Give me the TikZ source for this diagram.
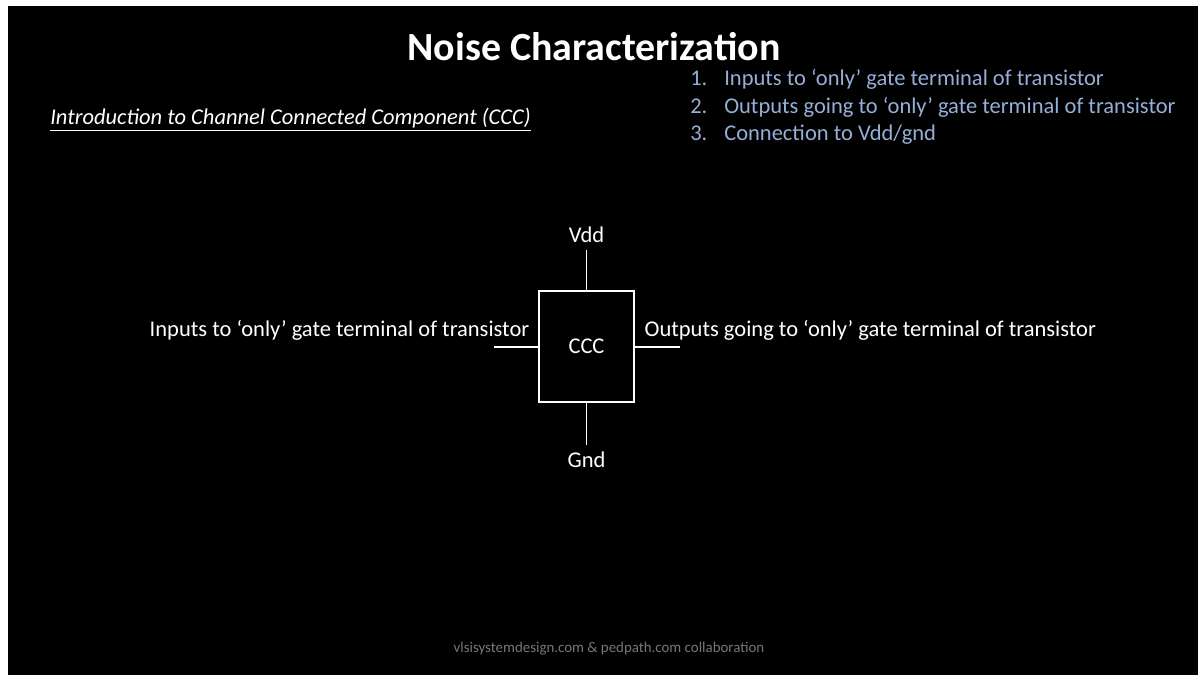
\documentclass[tikz,border=0pt]{standalone}
\usepackage{fontspec}
\setmainfont{Carlito}
\usepackage{tikz}
\usetikzlibrary{positioning}
\definecolor{listblue}{RGB}{150,175,215}
\definecolor{footgray}{RGB}{120,120,120}

\begin{document}
\begin{tikzpicture}[x=0.025cm,y=-0.025cm]
          \tikzset{BlockStyle/.style = {
              draw = white,
              line width = 2pt,
              minimum width = 95*0.025cm,
              minimum height = 111*0.025cm,
              inner sep = 0pt,
              text = white,
              font = \fontsize{16}{18}\selectfont},
            PinStyle/.style = {
              draw = white,
              line width = 1.4pt},
            PinLabel/.style = {
              text = white,
              inner sep = 1pt,
              font = \fontsize{16}{18}\selectfont},
            ListItem/.style = {
              text = listblue,
              anchor = base west,
              inner sep = 0pt,
              font = \fontsize{16}{18}\selectfont}}
          \useasboundingbox (0,0) rectangle (1198,675);
          \fill[white] (0,0) rectangle (1198,675);
          \fill[black] (8,6) rectangle (1198,675);
          %% heading
          \node[text=white,font=\fontsize{28.4}{32}\selectfont\bfseries] (title) at (594,47) {Noise Characterization};
          \node[text=white,anchor=west,inner sep=0pt,font=\fontsize{16}{18}\selectfont\itshape] (intro) at (50,120) {\underline{Introduction to Channel Connected Component (CCC)}};
          %% list
          \node[ListItem] (n1) at (690,86) {1.};
          \node[ListItem] (l1) at (724,86) {Inputs to ‘only’ gate terminal of transistor};
          \node[ListItem] (n2) at (690,114) {2.};
          \node[ListItem] (l2) at (724,114) {Outputs going to ‘only’ gate terminal of transistor};
          \node[ListItem] (n3) at (690,141) {3.};
          \node[ListItem] (l3) at (724,141) {Connection to Vdd/gnd};
          %% block
          \node[BlockStyle] (ccc) at (586.5,346.5) {CCC};
          \coordinate (vddpin) at (586.5,250);
          \coordinate (gndpin) at (586.5,445);
          \coordinate (inpin) at (494,347);
          \coordinate (outpin) at (680,347);
          \draw[PinStyle] (ccc.north) -- (vddpin);
          \draw[PinStyle] (ccc.south) -- (gndpin);
          \draw[PinStyle] (ccc.west |- inpin) -- (inpin);
          \draw[PinStyle] (ccc.east |- outpin) -- (outpin);
          \node[PinLabel,above=4pt of vddpin] (vdd) {Vdd};
          \node[PinLabel,below=4pt of gndpin] (gnd) {Gnd};
          \node[PinLabel,anchor=east] (inlab) at (531,330) {Inputs to ‘only’ gate terminal of transistor};
          \node[PinLabel,anchor=west] (outlab) at (643,330) {Outputs going to ‘only’ gate terminal of transistor};
          %% footer
          \node[text=footgray,font=\fontsize{10.6}{12}\selectfont] (foot) at (609,649) {vlsisystemdesign.com \& pedpath.com collaboration};
        \end{tikzpicture}
\end{document}
